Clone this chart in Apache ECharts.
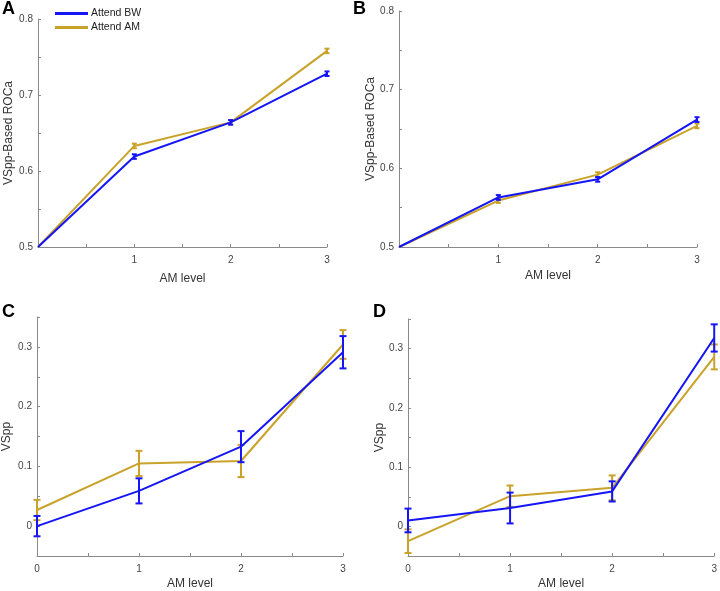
<!DOCTYPE html>
<html>
<head>
<meta charset="utf-8">
<script src="https://cdn.jsdelivr.net/npm/echarts@6/dist/echarts.min.js"></script>
<style>html,body{margin:0;padding:0;background:#fff;}#c{width:720px;height:591px;}</style>
</head>
<body>
<div id="c"></div>
<script>
// ---- data ----
const amLevels = [0, 1, 2, 3];
const seriesNames = ['Attend BW', 'Attend AM'];
// Panel A (VSpp-based ROCa)
const aBW = [0.5, 0.619, 0.664, 0.728];
const aBWErr = [0, 0.003, 0.003, 0.003];
const aAM = [0.5, 0.633, 0.664, 0.758];
const aAMErr = [0, 0.003, 0.003, 0.003];
// Panel B (VSpp-based ROCa)
const bBW = [0.5, 0.563, 0.586, 0.662];
const bBWErr = [0, 0.003, 0.003, 0.003];
const bAM = [0.5, 0.559, 0.592, 0.654];
const bAMErr = [0, 0.003, 0.003, 0.003];
// Panel C (VSpp)
const cBW = [0.0, 0.059, 0.133, 0.291];
const cBWErr = [0.017, 0.021, 0.026, 0.027];
const cAM = [0.027, 0.105, 0.109, 0.304];
const cAMErr = [0.017, 0.021, 0.027, 0.024];
// Panel D (VSpp)
const dBW = [0.010, 0.031, 0.059, 0.318];
const dBWErr = [0.020, 0.026, 0.017, 0.023];
const dAM = [-0.025, 0.051, 0.065, 0.286];
const dAMErr = [0.020, 0.018, 0.021, 0.021];

const panelLetters = ['A', 'B', 'C', 'D'];
const yTitles = ['VSpp-Based ROCa', 'VSpp-Based ROCa', 'VSpp', 'VSpp'];
const xTitle = 'AM level';

// ---- styling ----
const BLUE = '#1515f5';
const GOLD = '#c9a22a';
const AXIS = '#8a8a8a';
const FONT = 'Liberation Sans, Arial, sans-serif';

const grids = [
  {left: 38, top: 19, width: 289, height: 228},
  {left: 399, top: 11, width: 298, height: 236},
  {left: 31, top: 317, width: 312, height: 245},
  {left: 408, top: 319, width: 308, height: 243}
];
const yRanges = [[0.5, 0.8], [0.5, 0.8], [-0.05, 0.35], [-0.05, 0.35]];
const yNameGaps = [23, 18, 24, 18];
const xNameGaps = [26, 23, 22, 22];
const showZeroX = [false, false, true, true];

const panels = [
  [aBW, aBWErr, aAM, aAMErr],
  [bBW, bBWErr, bAM, bAMErr],
  [cBW, cBWErr, cAM, cAMErr],
  [dBW, dBWErr, dAM, dAMErr]
];

function errRender(color, capHalf) {
  return function (params, api) {
    const x = api.value(0), v = api.value(1), e = api.value(2);
    if (!e) return null;
    const t = api.coord([x, v + e]);
    const b = api.coord([x, v - e]);
    const st = {stroke: color, lineWidth: 2};
    return {
      type: 'group',
      children: [
        {type: 'line', shape: {x1: t[0], y1: t[1], x2: b[0], y2: b[1]}, style: st},
        {type: 'line', shape: {x1: t[0] - capHalf, y1: t[1], x2: t[0] + capHalf, y2: t[1]}, style: st},
        {type: 'line', shape: {x1: b[0] - capHalf, y1: b[1], x2: b[0] + capHalf, y2: b[1]}, style: st}
      ]
    };
  };
}

const xAxes = [], yAxes = [], series = [], graphics = [];
panels.forEach((p, i) => {
  xAxes.push({
    type: 'value', gridIndex: i, min: 0, max: 3, interval: 0.5,
    name: xTitle, nameLocation: 'middle', nameGap: xNameGaps[i],
    nameTextStyle: {fontSize: 12, color: '#333', fontFamily: FONT},
    axisLine: {show: true, onZero: false, lineStyle: {color: AXIS, width: 1}},
    axisTick: {show: true, inside: true, length: 3, lineStyle: {color: AXIS}},
    splitLine: {show: false},
    axisLabel: {
      fontSize: 10, color: '#444', fontFamily: FONT, margin: 8,
      formatter: v => {
        const r = Math.round(v * 2);
        if (r % 2 !== 0) return '';
        const n = r / 2;
        if (n === 0 && !showZeroX[i]) return '';
        return String(n);
      }
    }
  });
  yAxes.push({
    type: 'value', gridIndex: i, min: yRanges[i][0], max: yRanges[i][1], interval: 0.05,
    name: yTitles[i], nameLocation: 'middle', nameGap: yNameGaps[i],
    nameTextStyle: {fontSize: 12, color: '#333', fontFamily: FONT},
    axisLine: {show: true, onZero: false, lineStyle: {color: AXIS, width: 1}},
    axisTick: {show: true, inside: true, length: 3, lineStyle: {color: AXIS}},
    splitLine: {show: false},
    axisLabel: {
      fontSize: 10, color: '#444', fontFamily: FONT, margin: 5,
      formatter: v => {
        const r = Math.round(v * 20);
        if (r % 2 !== 0) return '';
        const val = r / 20;
        return val === 0 ? '0' : String(Math.round(val * 10) / 10);
      }
    }
  });
  const [bw, bwE, am, amE] = p;
  const capHalf = i < 2 ? 2.5 : 3.5;
  // gold first, blue on top
  series.push({
    type: 'line', name: seriesNames[1], xAxisIndex: i, yAxisIndex: i,
    data: amLevels.map((x, k) => [x, am[k]]),
    symbol: 'none', lineStyle: {color: GOLD, width: 2}, itemStyle: {color: GOLD},
    z: 2, animation: false
  });
  series.push({
    type: 'custom', name: seriesNames[1], xAxisIndex: i, yAxisIndex: i,
    data: amLevels.map((x, k) => [x, am[k], amE[k]]),
    renderItem: errRender(GOLD, capHalf), z: 2, animation: false
  });
  series.push({
    type: 'line', name: seriesNames[0], xAxisIndex: i, yAxisIndex: i,
    data: amLevels.map((x, k) => [x, bw[k]]),
    symbol: 'none', lineStyle: {color: BLUE, width: 2}, itemStyle: {color: BLUE},
    z: 3, animation: false
  });
  series.push({
    type: 'custom', name: seriesNames[0], xAxisIndex: i, yAxisIndex: i,
    data: amLevels.map((x, k) => [x, bw[k], bwE[k]]),
    renderItem: errRender(BLUE, capHalf), z: 3, animation: false
  });
});

const letterPos = [[2, 0], [353, 0], [2, 303], [373, 303]];
panelLetters.forEach((L, i) => {
  graphics.push({
    type: 'text', left: letterPos[i][0], top: letterPos[i][1],
    style: {text: L, font: 'bold 18px ' + FONT, fill: '#000'}
  });
});

const chart = echarts.init(document.getElementById('c'), null, {renderer: 'canvas'});
chart.setOption({
  animation: false,
  backgroundColor: '#fff',
  grid: grids.map(g => Object.assign({containLabel: false}, g)),
  xAxis: xAxes,
  yAxis: yAxes,
  legend: {
    data: seriesNames, orient: 'vertical', left: 55, top: 8, padding: 0,
    icon: 'rect', itemWidth: 33, itemHeight: 3, itemGap: 3,
    textStyle: {fontSize: 10.5, color: '#222', fontFamily: FONT, padding: [0, 0, 0, -2]},
    selectedMode: false
  },
  series: series,
  graphic: graphics
});
</script>
</body>
</html>
